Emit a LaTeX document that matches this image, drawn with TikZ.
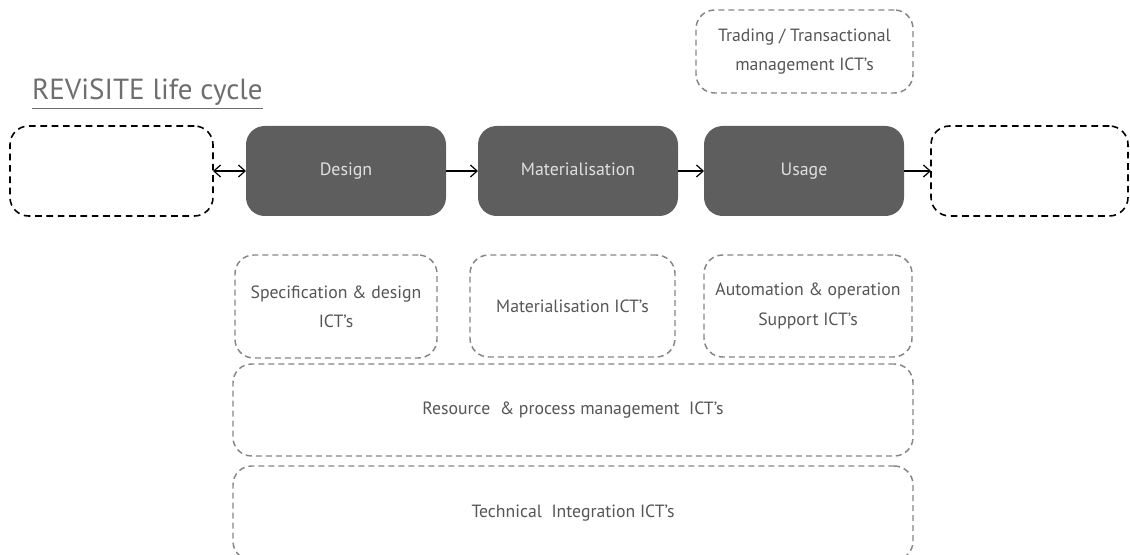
\documentclass[tikz,border=0pt]{standalone}
\usepackage{fontspec}
\setmainfont{PT Sans}
\usetikzlibrary{arrows.meta}
\definecolor{boxgray}{HTML}{5E5E5E}
\definecolor{ictgray}{HTML}{858585}
\definecolor{txtgray}{HTML}{555555}
\tikzset{
 phase/.style={fill=boxgray,draw=none,rounded corners=14,text=white!88!black,
  font=\fontsize{13.4}{15}\selectfont,text height=1.6ex,text depth=.3ex},
 openbox/.style={draw=black,line width=1.2pt,dash pattern=on 5pt off 3.5pt,rounded corners=14},
 ictbox/.style={draw=ictgray,line width=1.1pt,dash pattern=on 4.5pt off 3pt,rounded corners=14,
  text=txtgray,align=center,font=\fontsize{13.3}{22}\selectfont},
 flow/.style={line width=0.9pt}
}
\begin{document}
\begin{tikzpicture}[x=0.75pt,y=-0.75pt,inner sep=0pt,outer sep=0pt,
 >={Straight Barb[length=5pt,width=9pt,line width=0.9pt]}]
 \useasboundingbox (0,0) rectangle (1130,555); \clip (0,0) rectangle (1130,555);
 \node[anchor=base west,text=txtgray!85!white,font=\fontsize{21.8}{25}\selectfont] (title) at (32,100) {\underline{REViSITE life cycle}};
 % life cycle row
 \node[openbox,minimum width=203*0.75pt,minimum height=90*0.75pt] (before) at (111.5,171) {};
 \node[phase,minimum width=200*0.75pt,minimum height=90*0.75pt] (design) at (346,171) {Design};
 \node[phase,minimum width=200*0.75pt,minimum height=90*0.75pt] (mat) at (578,171) {Materialisation};
 \node[phase,minimum width=200*0.75pt,minimum height=90*0.75pt] (usage) at (804,171) {Usage};
 \node[openbox,minimum width=197*0.75pt,minimum height=90*0.75pt] (after) at (1029.5,171) {};
 \draw[flow,<->] (before) -- (design); \draw[flow,->] (design) -- (mat);
 \draw[flow,->] (mat) -- (usage); \draw[flow,->] (usage) -- (after);
 % supporting ICT's
 \node[ictbox,minimum width=217*0.75pt,minimum height=83*0.75pt] (trade) at (804.5,51.5) {Trading / Transactional\\management ICT's};
 \node[ictbox,minimum width=202*0.75pt,minimum height=103*0.75pt] (spec) at (336,306.5) {Specification \& design\\ICT's};
 \node[ictbox,minimum width=205*0.75pt,minimum height=102*0.75pt] (matict) at (572.5,306) {Materialisation ICT's};
 \node[ictbox,minimum width=208*0.75pt,minimum height=102*0.75pt] (auto) at (808,306) {Automation \& operation\\Support ICT's};
 \node[ictbox,minimum width=680*0.75pt,minimum height=92*0.75pt] (res) at (573,410) {Resource \ \& process management \ ICT's};
 \node[ictbox,minimum width=680*0.75pt,minimum height=94*0.75pt] (tech) at (573,513) {Technical \ Integration ICT's};
\end{tikzpicture}
\end{document}
